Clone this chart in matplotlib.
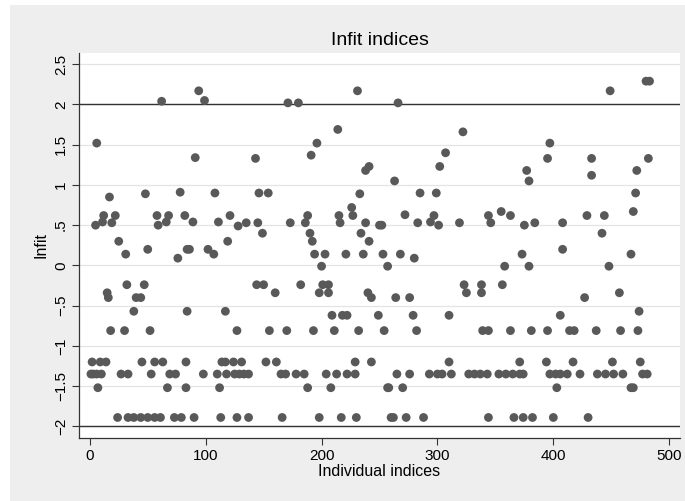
import matplotlib
matplotlib.use('Agg')
import matplotlib.pyplot as plt
from matplotlib.patches import Rectangle

plt.rcParams['font.family'] = ['Liberation Sans', 'DejaVu Sans']

# Infit values, grouped by vertical band
idx_top = [62, 6, 94, 99, 171, 91, 143, 231, 180, 214, 196, 191, 238, 241,
           266, 322, 307, 302, 263, 397, 395, 377, 379, 483, 480, 449, 433,
           433, 482, 472]
infit_top = [2.04, 1.52, 2.17, 2.05, 2.02, 1.34, 1.33, 2.17, 2.02, 1.69,
             1.52, 1.37, 1.18, 1.23, 2.02, 1.66, 1.40, 1.23, 1.05, 1.52,
             1.33, 1.18, 1.05, 2.29, 2.29, 2.17, 1.33, 1.12, 1.33, 1.18]

idx_mid = [17, 48, 78, 5, 12, 11, 19, 22, 58, 59, 66, 68, 82, 25, 31, 50, 76,
           84, 108, 146, 154, 89, 111, 121, 128, 135, 145, 173, 149, 119, 86,
           102, 107, 233, 226, 227, 188, 186, 215, 216, 238, 250, 252, 190,
           192, 234, 241, 194, 203, 221, 236, 253, 200, 257, 285, 299, 272,
           283, 297, 294, 301, 319, 344, 346, 268, 280, 355, 363, 375, 384,
           408, 429, 373, 358, 379, 408, 471, 469, 444, 442, 467, 448]
infit_mid = [0.85, 0.89, 0.91, 0.50, 0.62, 0.54, 0.53, 0.62, 0.62, 0.50,
             0.54, 0.62, 0.62, 0.30, 0.14, 0.20, 0.09, 0.20, 0.90, 0.90,
             0.90, 0.54, 0.54, 0.62, 0.49, 0.53, 0.53, 0.53, 0.40, 0.30,
             0.20, 0.20, 0.14, 0.89, 0.72, 0.62, 0.62, 0.53, 0.62, 0.53,
             0.53, 0.50, 0.50, 0.40, 0.30, 0.40, 0.30, 0.14, 0.14, 0.14,
             0.14, 0.14, -0.01, -0.01, 0.90, 0.90, 0.63, 0.53, 0.62, 0.54,
             0.50, 0.53, 0.62, 0.53, 0.14, 0.09, 0.67, 0.62, 0.50, 0.53,
             0.53, 0.62, 0.14, -0.01, -0.01, 0.20, 0.90, 0.67, 0.62, 0.40,
             0.14, -0.01]

idx_neg = [32, 47, 15, 16, 40, 44, 38, 84, 18, 30, 52, 144, 150, 160, 117,
           127, 155, 170, 182, 201, 206, 198, 206, 240, 243, 209, 218, 222,
           249, 193, 211, 232, 254, 323, 338, 325, 338, 264, 276, 279, 310,
           282, 339, 344, 356, 427, 406, 363, 381, 395, 414, 418, 457, 474,
           437, 458, 473]
infit_neg = [-0.24, -0.24, -0.34, -0.40, -0.40, -0.40, -0.57, -0.57, -0.81,
             -0.81, -0.81, -0.24, -0.24, -0.34, -0.57, -0.81, -0.81, -0.81,
             -0.24, -0.24, -0.24, -0.34, -0.34, -0.34, -0.40, -0.62, -0.62,
             -0.62, -0.62, -0.81, -0.81, -0.81, -0.81, -0.24, -0.24, -0.34,
             -0.34, -0.40, -0.40, -0.62, -0.62, -0.81, -0.81, -0.81, -0.24,
             -0.40, -0.62, -0.81, -0.81, -0.81, -0.81, -0.81, -0.34, -0.57,
             -0.81, -0.81, -0.81]

# individuals sitting on the low discrete levels
idx_m120 = [2, 9, 14, 45, 56, 63, 83, 114, 117, 124, 131, 152, 161, 229, 243,
            310, 371, 394, 417, 451, 475]
idx_m135 = [1, 3, 6, 10, 27, 33, 53, 69, 74, 98, 110, 118, 125, 129, 133, 137,
            165, 169, 178, 185, 204, 213, 222, 229, 265, 276, 293, 300, 304,
            312, 327, 332, 337, 343, 353, 359, 365, 371, 374, 397, 402, 406,
            412, 423, 438, 445, 452, 460, 477, 481]
idx_m152 = [7, 67, 83, 112, 188, 208, 257, 258, 270, 403, 467, 469]
idx_m189 = [24, 33, 38, 44, 50, 56, 61, 73, 79, 90, 113, 127, 137, 166, 198,
            217, 230, 260, 262, 273, 288, 344, 366, 374, 382, 400, 430]

levels = {-1.20: idx_m120, -1.35: idx_m135, -1.52: idx_m152, -1.89: idx_m189}

x_all = idx_top + idx_mid + idx_neg
y_all = infit_top + infit_mid + infit_neg
for level, ids in levels.items():
    x_all += ids
    y_all += [level] * len(ids)

yticks = [-2, -1.5, -1, -0.5, 0, 0.5, 1, 1.5, 2, 2.5]
ytick_labels = ['\u22122', '\u22121.5', '\u22121', '\u2212.5', '0', '.5',
                '1', '1.5', '2', '2.5']
xticks = [0, 100, 200, 300, 400, 500]

bg = '#eeeeee'
fig = plt.figure(figsize=(6.85, 5.01), dpi=100)
fig.patch.set_facecolor('white')
fig.patches.append(Rectangle((10 / 685, 0), 1, 1 - 5 / 501,
                             transform=fig.transFigure, facecolor=bg,
                             edgecolor='none', zorder=-10))
ax = fig.add_axes([79 / 685, 1 - 438 / 501, 601 / 685, 385 / 501])
ax.set_facecolor('white')

for yt in yticks:
    ax.axhline(yt, color='#e4e4e4', lw=0.9, zorder=0)
ax.axhline(2, color='#333333', lw=1.0, zorder=1)
ax.axhline(-2, color='#333333', lw=1.0, zorder=1)

ax.scatter(x_all, y_all, s=40, color='#595959', edgecolors='none', zorder=3)

ax.set_xlim(-9.3, 509.3)
ax.set_ylim(-2.145, 2.64)
ax.set_xticks(xticks)
ax.set_yticks(yticks)
ax.set_yticklabels(ytick_labels, rotation=90, va='center')
ax.tick_params(axis='both', labelsize=11, length=5, width=0.8,
               color='#333333', direction='out', pad=3)

for side in ['top', 'right']:
    ax.spines[side].set_visible(False)
for side in ['left', 'bottom']:
    ax.spines[side].set_color('#333333')
    ax.spines[side].set_linewidth(0.9)

ax.set_xlabel('Individual indices', fontsize=11.5, labelpad=1)
ax.set_ylabel('Infit', fontsize=11.5, labelpad=4)
ax.set_title('Infit indices', fontsize=14, pad=6)

fig.savefig('out.png', dpi=100, facecolor=fig.get_facecolor())
